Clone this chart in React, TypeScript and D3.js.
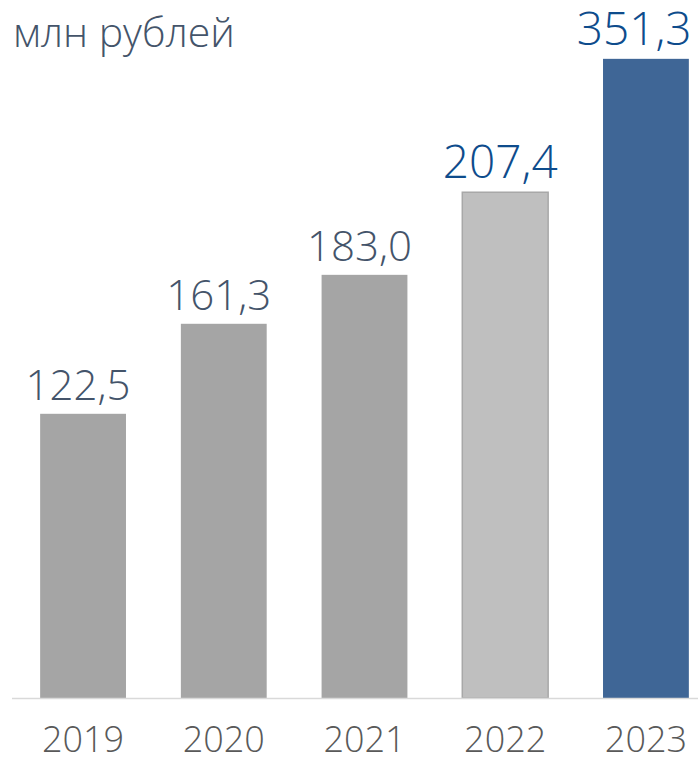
import React from 'react';
import * as d3 from 'd3';

// значения, подписанные над столбцами
const years = ['2019', '2020', '2021', '2022', '2023'];
const values = [122.5, 161.3, 183.0, 207.4, 351.3];
// длина столбцов, как они нарисованы (шкала у оригинала не строгая)
const barLengths = [122.5, 161.3, 182.4, 218.0, 275.5];
const barColors = ['#A5A5A5', '#A5A5A5', '#A5A5A5', '#BFBFBF', '#3F6696'];
const labelColors = ['#44546A', '#44546A', '#44546A', '#0E4C8C', '#0E4C8C'];
const labelSizes = [42, 42, 42, 46, 46];
const unitLabel = 'млн рублей';

const W = 698, H = 757;
const font = '"Open Sans", sans-serif';

export default function App() {
  const x = d3.scaleBand<string>()
              .domain(years)
              .range([12, 717])
              .paddingInner(0.39)
              .paddingOuter(0.2);

  const y = d3.scaleLinear()
              .domain([0, 280])
              .range([698, 698 - 280 * 2.32]);

  const fmt = (v: number) => d3.format('.1f')(v).replace('.', ',');

  // подпись по центру столбца, но не вылезает за правый край
  const labelX = (yr: string, size: number) => {
    const c = x(yr)! + x.bandwidth() / 2 - 5;
    const half = size * 1.28;
    return Math.min(c, W - 5 - half);
  };

  return (
    <svg width={W} height={H} style={{position: 'absolute', left: 0, top: 0}}
         fontFamily={font} fontWeight={300}>
      <rect width={W} height={H} fill="#fff" />
      <text x={13} y={47} fontSize={41} fill="#44546A">{unitLabel}</text>

      {years.map((yr, i) =>
        <rect key={yr} x={x(yr)} y={y(barLengths[i])}
              width={x.bandwidth()} height={y(0) - y(barLengths[i])}
              fill={barColors[i]}
              stroke={i === 3 ? '#A8A8A8' : 'none'} strokeWidth={i === 3 ? 1.5 : 0} />
      )}

      <line x1={12} x2={W} y1={y(0) + 0.5} y2={y(0) + 0.5} stroke="#D9D9D9" strokeWidth={1.5} />

      {years.map((yr, i) =>
        <text key={'v' + yr} x={labelX(yr, labelSizes[i])} y={y(barLengths[i]) - 14}
              textAnchor="middle" fontSize={labelSizes[i]} fill={labelColors[i]}>
          {fmt(values[i])}
        </text>
      )}

      {years.map(yr =>
        <text key={'t' + yr} x={x(yr)! + x.bandwidth() / 2} y={752}
              textAnchor="middle" fontSize={36} fill="#595959">
          {yr}
        </text>
      )}
    </svg>
  );
}
